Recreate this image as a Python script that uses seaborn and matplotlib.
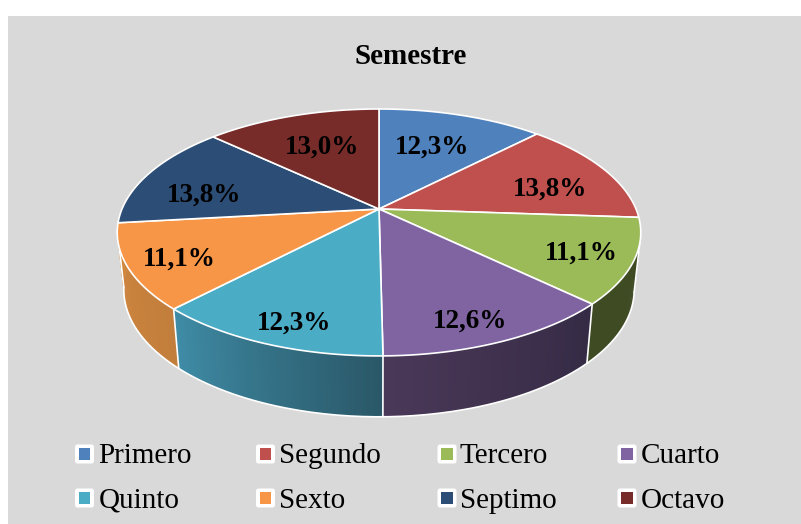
import numpy as np
import pandas as pd
import matplotlib
matplotlib.use("Agg")
import matplotlib.pyplot as plt
import seaborn as sns
from matplotlib.patches import FancyBboxPatch

# datos
semestres = ["Primero", "Segundo", "Tercero", "Cuarto", "Quinto", "Sexto", "Septimo", "Octavo"]
valores = [12.3, 13.8, 11.1, 12.6, 12.3, 11.1, 13.8, 13.0]
etiquetas = ["12,3%", "13,8%", "11,1%", "12,6%", "12,3%", "11,1%", "13,8%", "13,0%"]
colores = ["#4F81BD", "#C0504D", "#9BBB59", "#8064A2", "#4BACC6", "#F79646", "#2C4D75", "#772C2A"]
# color de la pared lateral (inicio, fin) de cada sector
pared_ini = ["#3B618E", "#3E4B23", "#3E4B23", "#352B45", "#2A5868", "#C27E3C", "#D2873F", "#5A2220"]
pared_fin = ["#3B618E", "#3E4B23", "#3E4B23", "#4A3858", "#3F8CA6", "#D2873F", "#D2873F", "#5A2220"]

# posicion de los textos en pixeles
etiqueta_x = [432, 550, 581, 470, 294, 179, 204, 322]
etiqueta_y = [147, 189, 253, 321, 323, 259, 195, 147]
leyenda_x = [84.5, 265.5, 447, 627]
texto_x = [98.5, 279, 460, 641]
leyenda_y = [454, 498]
base_y = [463, 508]

sns.set_theme(style="white")
plt.rcParams["font.family"] = ["Liberation Serif", "DejaVu Serif"]

fig = plt.figure(figsize=(8.01, 5.24), dpi=100, facecolor="white")
ax = fig.add_axes([8 / 801, 0, 793 / 801, 508 / 524], facecolor="#D9D9D9")
ax.set_xlim(8, 801)
ax.set_ylim(524, 16)
ax.set_xticks([])
ax.set_yticks([])
sns.despine(ax=ax, left=True, bottom=True)

# perspectiva del disco
cx, cy = 379, 209
a, b, k = 257, 119, 0.19
alto = 56.5
esc_x, esc_y = 0.975, 1.03


def arriba(theta):
    u, v = np.sin(theta), np.cos(theta)
    d = 1 + k * v
    return cx + a * u / d, cy - b * v / d


def abajo(theta):
    x, y = arriba(theta)
    return cx + (x - cx) * esc_x, cy + (y - cy) * esc_y + alto


acum = np.cumsum([0] + valores) / np.sum(valores) * 2 * np.pi
tramos = [np.linspace(acum[i], acum[i + 1], 60) for i in range(len(valores))]

# paredes laterales con degradado (cada tira pisa a la anterior para que no se noten cortes)
for t, c0, c1 in zip(tramos, pared_ini, pared_fin):
    c0, c1 = np.array(matplotlib.colors.to_rgb(c0)), np.array(matplotlib.colors.to_rgb(c1))
    for j in range(len(t) - 1):
        seg = t[j:j + 3]
        x1, y1 = arriba(seg)
        x2, y2 = abajo(seg)
        col = c0 + (c1 - c0) * j / (len(t) - 2)
        ax.fill(np.r_[x1, x2[::-1]], np.r_[y1, y2[::-1]], color=col, lw=0, zorder=1)

# lineas blancas de las paredes
ini, fin = acum[2] + 0.14, acum[6] - 0.06
ax.plot(*abajo(np.linspace(ini, fin, 200)), color="white", lw=1.2, zorder=2)
for th in [ini, acum[3], acum[4], acum[5], fin]:
    x1, y1 = arriba(th)
    x2, y2 = abajo(th)
    ax.plot([x1, x2], [y1, y2], color="white", lw=1.2, zorder=2)

# cara superior
for t, c in zip(tramos, colores):
    x, y = arriba(t)
    ax.fill(np.r_[cx, x], np.r_[cy, y], facecolor=c, edgecolor="white", lw=1.2, zorder=3)

for xt, yt, txt in zip(etiqueta_x, etiqueta_y, etiquetas):
    ax.text(xt, yt, txt, fontsize=19.5, fontweight="bold", color="black",
            ha="center", va="center", zorder=5)

ax.text(411, 57, "Semestre", fontsize=21, fontweight="bold", color="black",
        ha="center", va="center", zorder=5)

# leyenda
filas = pd.DataFrame({
    "semestre": semestres,
    "x": [leyenda_x[i % 4] for i in range(8)],
    "tx": [texto_x[i % 4] for i in range(8)],
    "y": [leyenda_y[i // 4] for i in range(8)],
    "base": [base_y[i // 4] for i in range(8)],
})
for _, f in filas.iterrows():
    ax.add_patch(FancyBboxPatch((f["x"] - 7, f["y"] - 7), 14, 14,
                                boxstyle="round,pad=2.5,rounding_size=2.5",
                                facecolor="white", edgecolor="none", zorder=4))
    ax.text(f["tx"], f["base"], f["semestre"], fontsize=21, color="black",
            ha="left", va="baseline", zorder=5)
sns.scatterplot(data=filas, x="x", y="y", hue="semestre", palette=colores, marker="s",
                s=70, linewidth=0, legend=False, ax=ax, zorder=6)
ax.set_xlabel("")
ax.set_ylabel("")

fig.savefig("out.png", dpi=100)
